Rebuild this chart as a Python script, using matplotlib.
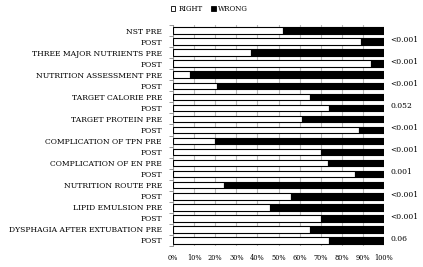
import numpy as np
import matplotlib
matplotlib.use('Agg')
from matplotlib import pyplot as plt
from matplotlib.patches import Patch

# row labels, top to bottom
labels = ['NST PRE', 'POST',
          'THREE MAJOR NUTRIENTS PRE', 'POST',
          'NUTRITION ASSESSMENT PRE', 'POST',
          'TARGET CALORIE PRE', 'POST',
          'TARGET PROTEIN PRE', 'POST',
          'COMPLICATION OF TPN PRE', 'POST',
          'COMPLICATION OF EN PRE', 'POST',
          'NUTRITION ROUTE PRE', 'POST',
          'LIPID EMULSION PRE', 'POST',
          'DYSPHAGIA AFTER EXTUBATION PRE', 'POST']
right = [52, 89, 37, 94, 8, 21, 65, 74, 61, 88,
         20, 70, 73.5, 86, 24, 56, 46, 70, 65, 74]
wrong = [100 - r for r in right]
p_values = ['<0.001', '<0.001', '<0.001', '0.052', '<0.001',
            '<0.001', '0.001', '<0.001', '<0.001', '0.06']
x_ticks = list(range(0, 101, 10))

plt.rcParams['font.family'] = ['DejaVu Serif']
fig = plt.figure(figsize=(4.23, 2.67), dpi=100)
ax = fig.add_axes([0.409, 0.079, 0.499, 0.827])

y = np.arange(len(labels))
h = 0.6
ax.barh(y, right, height=h, color='white', edgecolor='black', linewidth=0.8, zorder=3)
ax.barh(y, wrong, left=right, height=h, color='black', edgecolor='black', linewidth=0.8, zorder=3)

ax.set_xlim(0, 100)
ax.set_ylim(len(labels) - 0.5, -0.5)
ax.set_xticks(x_ticks)
ax.set_xticklabels([f'{t}%' for t in x_ticks], fontsize=4.8)
ax.set_yticks(y)
ax.set_yticklabels(labels, fontsize=5.5)
ax.tick_params(axis='y', length=0, pad=8)
ax.tick_params(axis='x', length=0, pad=6)
ax.set_yticks(np.arange(-0.5, len(labels), 1), minor=True)
ax.tick_params(axis='y', which='minor', length=3, color='#888888', width=0.6)
ax.grid(axis='x', color='#bbbbbb', linewidth=0.8, zorder=0)
for s in ['top', 'right', 'bottom']:
    ax.spines[s].set_visible(False)
ax.spines['left'].set_color('#888888')
ax.spines['left'].set_linewidth(0.6)

for i, p in enumerate(p_values):
    ax.text(103, 2 * i + 0.85, p, fontsize=5.5, va='center', ha='left', clip_on=False)

handles = [Patch(facecolor='white', edgecolor='black', linewidth=0.6, label='RIGHT'),
           Patch(facecolor='black', edgecolor='black', linewidth=0.6, label='WRONG')]
fig.legend(handles=handles, loc='center', bbox_to_anchor=(0.495, 0.965), ncol=2,
           frameon=False, fontsize=5, handlelength=0.7, handleheight=0.7,
           handletextpad=0.4, columnspacing=1.2)

fig.savefig('out.png', dpi=100)
